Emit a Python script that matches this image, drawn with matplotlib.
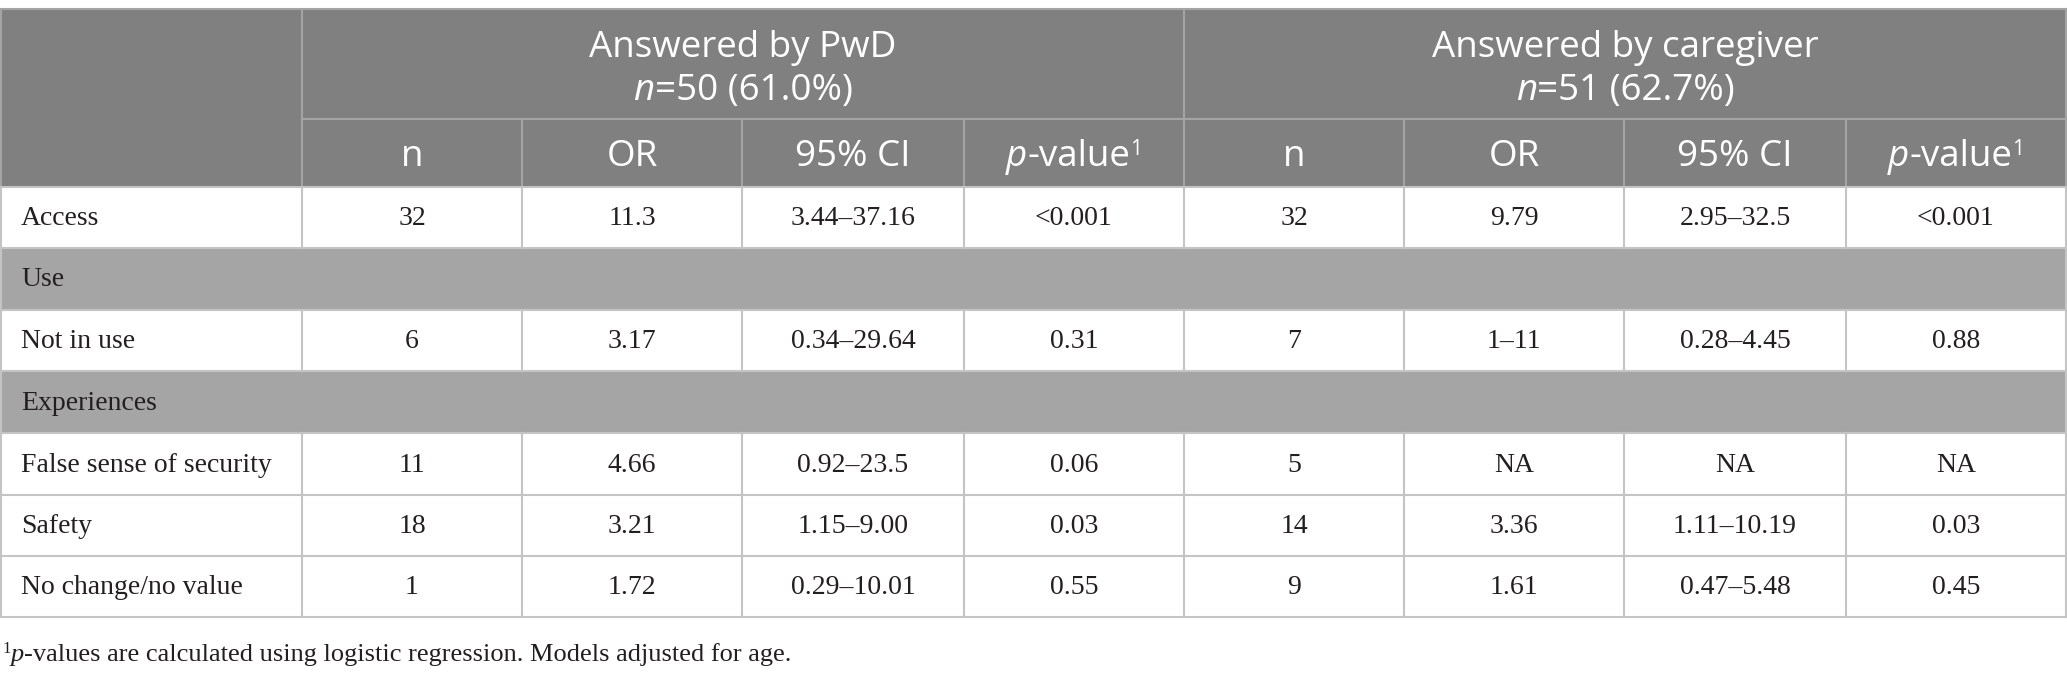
import matplotlib
matplotlib.use("Agg")
import matplotlib.pyplot as plt
from matplotlib.patches import Rectangle
from matplotlib.font_manager import FontProperties

# ---------------- data ----------------
row_labels = ["Access", "Use", "Not in use", "Experiences",
              "False sense of security", "Safety", "No change/no value"]
section_rows = ["Use", "Experiences"]

sub_headers = ["n", "OR", "95% CI", "p-value"]
group_titles = ["Answered by PwD", "Answered by caregiver"]
group_n = ["50 (61.0%)", "51 (62.7%)"]

pwd_n = ["32", None, "6", None, "11", "18", "1"]
pwd_or = ["11.3", None, "3.17", None, "4.66", "3.21", "1.72"]
pwd_ci = ["3.44\u201337.16", None, "0.34\u201329.64", None, "0.92\u201323.5", "1.15\u20139.00", "0.29\u201310.01"]
pwd_p = ["<0.001", None, "0.31", None, "0.06", "0.03", "0.55"]

cg_n = ["32", None, "7", None, "5", "14", "9"]
cg_or = ["9.79", None, "1\u201311", None, "NA", "3.36", "1.61"]
cg_ci = ["2.95\u201332.5", None, "0.28\u20134.45", None, "NA", "1.11\u201310.19", "0.47\u20135.48"]
cg_p = ["<0.001", None, "0.88", None, "NA", "0.03", "0.45"]

footnote = "-values are calculated using logistic regression. Models adjusted for age."

# ---------------- layout / style ----------------
W, H = 2067, 673
col_edges = [0, 302, 522, 742, 964, 1184, 1404, 1624, 1846, 2066]
row_edges = [9, 119, 187, 248, 310, 371, 433, 495, 556, 617]

HEAD = "#7f807f"
SECT = "#a4a5a4"
GRID = "#c4c4c4"
HGRID = "#a3a4a3"
TXT = "#231f20"

fig = plt.figure(figsize=(W / 100, H / 100), dpi=100)
ax = fig.add_axes([0, 0, 1, 1])
ax.set_xlim(0, W)
ax.set_ylim(H, 0)
ax.axis("off")
renderer = fig.canvas.get_renderer()

hfont = FontProperties(family="Open Sans", size=26.5)
hfont_it = FontProperties(family="Open Sans", style="italic", size=26.5)
hfont_sup = FontProperties(family="Open Sans", size=15)
bfont = FontProperties(family="Liberation Serif", size=20)
ffont = FontProperties(family="Liberation Serif", size=19)
ffont_it = FontProperties(family="Liberation Serif", style="italic", size=19)
ffont_sup = FontProperties(family="Liberation Serif", size=12)


def text_width(s, fp):
    t = ax.text(0, 0, s, fontproperties=fp)
    w = t.get_window_extent(renderer).width
    t.remove()
    return w


def draw_runs(x, y, runs, ha="center", color="white"):
    widths = [text_width(s, fp) for s, fp, dy in runs]
    total = sum(widths)
    cx = x - total / 2 if ha == "center" else x
    for (s, fp, dy), w in zip(runs, widths):
        ax.text(cx, y + dy, s, fontproperties=fp, color=color,
                ha="left", va="baseline")
        cx += w


# header background
ax.add_patch(Rectangle((0, row_edges[0]), col_edges[-1], row_edges[2] - row_edges[0],
                       facecolor=HEAD, edgecolor="none"))

# section rows
nrows = len(row_labels)
for i in range(nrows):
    y0, y1 = row_edges[2 + i], row_edges[3 + i]
    if row_labels[i] in section_rows:
        ax.add_patch(Rectangle((0, y0), col_edges[-1], y1 - y0, facecolor=SECT, edgecolor="none"))

# header lines
lw = 1.5
ax.plot([0, col_edges[-1]], [row_edges[0], row_edges[0]], color=HGRID, lw=lw)
ax.plot([col_edges[1], col_edges[-1]], [row_edges[1], row_edges[1]], color=HGRID, lw=lw)
for j in [1, 5]:
    ax.plot([col_edges[j]] * 2, [row_edges[0], row_edges[2]], color=HGRID, lw=lw)
for j in [2, 3, 4, 6, 7, 8]:
    ax.plot([col_edges[j]] * 2, [row_edges[1], row_edges[2]], color=HGRID, lw=lw)
ax.plot([0.5, 0.5], [row_edges[0], row_edges[2]], color=HGRID, lw=lw)
ax.plot([col_edges[-1]] * 2, [row_edges[0], row_edges[2]], color=HGRID, lw=lw)

# body lines
for k in range(2, len(row_edges)):
    ax.plot([0, col_edges[-1]], [row_edges[k]] * 2, color=GRID, lw=lw)
for i in range(nrows):
    y0, y1 = row_edges[2 + i], row_edges[3 + i]
    xs = [0.5, col_edges[-1]] if row_labels[i] in section_rows else [0.5] + col_edges[1:]
    for x in xs:
        ax.plot([x, x], [y0, y1], color=GRID, lw=lw)

# header text
for g in range(2):
    cx = (col_edges[1 + 4 * g] + col_edges[5 + 4 * g]) / 2
    draw_runs(cx, 57, [(group_titles[g], hfont, 0)])
    draw_runs(cx, 100, [("n", hfont_it, 0), ("=" + group_n[g], hfont, 0)])
    for k, lab in enumerate(sub_headers):
        c0, c1 = col_edges[1 + 4 * g + k], col_edges[2 + 4 * g + k]
        cxx = (c0 + c1) / 2
        if lab.startswith("p-"):
            draw_runs(cxx, 166, [("p", hfont_it, 0), ("-value", hfont, 0), ("1", hfont_sup, -11)])
        else:
            draw_runs(cxx, 166, [(lab, hfont, 0)])

# body text
cols = [pwd_n, pwd_or, pwd_ci, pwd_p, cg_n, cg_or, cg_ci, cg_p]
for i in range(nrows):
    y0, y1 = row_edges[2 + i], row_edges[3 + i]
    yc = (y0 + y1) / 2 + 1
    ax.text(21, yc, row_labels[i], fontproperties=bfont, color=TXT, ha="left", va="center")
    for j, col in enumerate(cols):
        v = col[i]
        if v is None:
            continue
        cx = (col_edges[1 + j] + col_edges[2 + j]) / 2
        ax.text(cx, yc, v, fontproperties=bfont, color=TXT, ha="center", va="center")

# footnote
draw_runs(2, 661, [("1", ffont_sup, -8), ("p", ffont_it, 0), (footnote, ffont, 0)],
          ha="left", color=TXT)

fig.savefig("out.png", dpi=100, facecolor="white")
